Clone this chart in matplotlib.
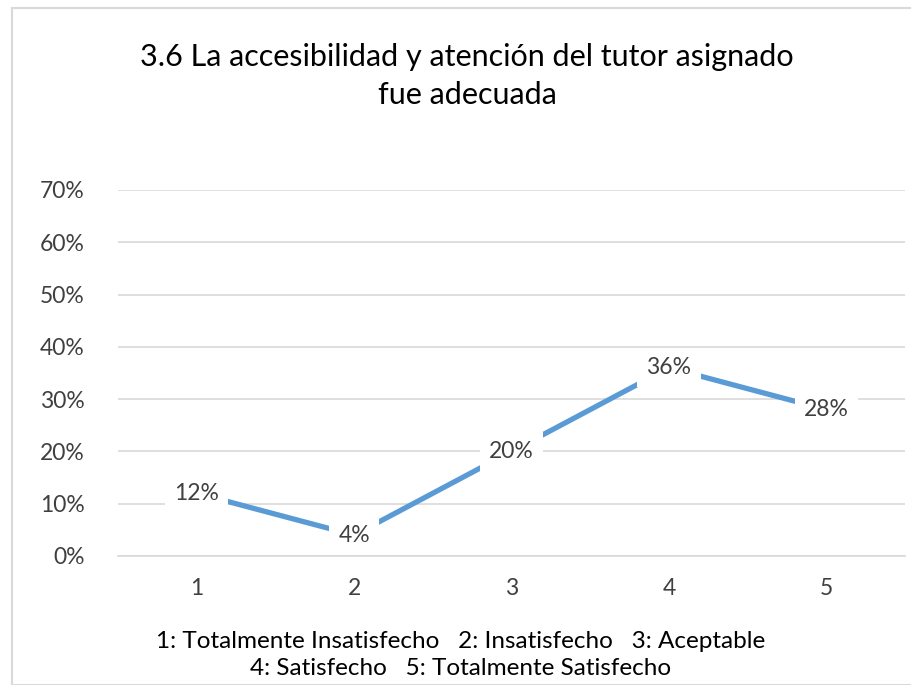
import matplotlib
matplotlib.use("Agg")
import matplotlib.pyplot as plt
from matplotlib.patches import Rectangle
from matplotlib.ticker import FuncFormatter

categories = ["1", "2", "3", "4", "5"]
values = [0.12, 0.04, 0.20, 0.36, 0.28]
labels = ["12%", "4%", "20%", "36%", "28%"]
yticks = [0, 0.1, 0.2, 0.3, 0.4, 0.5, 0.6, 0.7]
title = "3.6 La accesibilidad y atención del tutor asignado\nfue adecuada"
footer = "1: Totalmente Insatisfecho   2: Insatisfecho   3: Aceptable\n4: Satisfecho   5: Totalmente Satisfecho"

plt.rcParams['font.family'] = ['Lato', 'DejaVu Sans']

W, H = 912, 685
fig = plt.figure(figsize=(W/100, H/100), dpi=100)
fig.patches.append(Rectangle((12/W, 0), 1, 1 - 8/H, transform=fig.transFigure,
                             fill=False, edgecolor='#D9D9D9', linewidth=1.5))

ax = fig.add_axes([118/W, 1 - 556/H, (905-118)/W, (556-190)/H])
x = list(range(len(categories)))
ax.plot(x, values, color='#5B9BD5', linewidth=3.8, solid_capstyle='butt', zorder=2)
for xi, v, lab in zip(x, values, labels):
    ax.text(xi, v, lab, ha='center', va='center', fontsize=16.5, color='#404040',
            bbox=dict(boxstyle='square,pad=0.4', fc='white', ec='none'), zorder=3)

ax.set_xlim(-0.5, len(categories) - 0.5)
ax.set_ylim(0, 0.7)
ax.set_yticks(yticks)
ax.yaxis.set_major_formatter(FuncFormatter(lambda v, p: f"{v*100:.0f}%"))
ax.set_xticks(x)
ax.set_xticklabels(categories)
ax.grid(axis='y', color='#D9D9D9', linewidth=1.2)
ax.set_axisbelow(True)
for s in ['top', 'right', 'left']:
    ax.spines[s].set_visible(False)
ax.spines['bottom'].set_color('#D9D9D9')
ax.spines['bottom'].set_linewidth(1.2)
ax.tick_params(axis='both', length=0, labelsize=16.5, labelcolor='#404040')
ax.tick_params(axis='y', pad=24)
ax.tick_params(axis='x', pad=16)

fig.text(467/W, 1 - 76/H, title, ha='center', va='center', fontsize=22,
         color='black', linespacing=1.45)
fig.text(461/W, 1 - 655/H, footer, ha='center', va='center', fontsize=17.5,
         color='black', linespacing=1.3)

fig.savefig("out.png", dpi=100)
